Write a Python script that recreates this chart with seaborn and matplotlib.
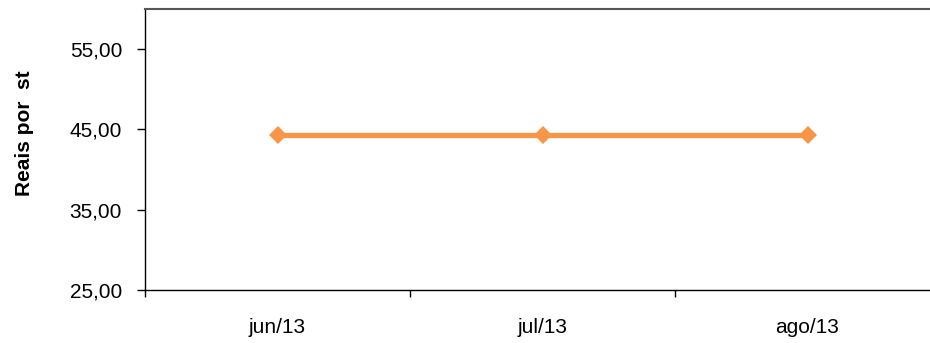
import matplotlib
matplotlib.use("Agg")
import matplotlib.pyplot as plt
import seaborn as sns
import pandas as pd
from matplotlib.ticker import FixedLocator, FuncFormatter

# Monthly price series
months = ["jun/13", "jul/13", "ago/13"]
prices = [44.3, 44.3, 44.3]
y_ticks = [25, 35, 45, 55]

sns.set_theme(style="white")
plt.rcParams["font.family"] = ["Liberation Sans", "DejaVu Sans"]

df = pd.DataFrame({"pos": range(len(months)), "month": months, "price": prices})

fig = plt.figure(figsize=(9.30, 3.43), dpi=100)
W, H = 930, 343
left, right, top, bottom = 145, 940, 9, 290
ax = fig.add_axes([left / W, 1 - bottom / H, (right - left) / W, (bottom - top) / H])

sns.lineplot(data=df, x="pos", y="price", ax=ax, color="#F79646", linewidth=3.8,
             marker="D", markersize=9, markeredgewidth=0, legend=False)

ax.set_xlim(-0.5, len(months) - 0.5)
ax.set_ylim(25, 60)

ax.yaxis.set_major_locator(FixedLocator(y_ticks))
ax.yaxis.set_major_formatter(FuncFormatter(lambda v, p: f"{v:.2f}".replace(".", ",")))

ax.set_xticks(list(range(len(months))))
ax.set_xticklabels(months)
ax.set_xticks([i - 0.5 for i in range(len(months) + 1)], minor=True)
ax.tick_params(axis="x", which="major", length=0, pad=20, labelsize=15, colors="#000000")
ax.tick_params(axis="x", which="minor", length=5, width=1, direction="out", color="#000000", bottom=True)
ax.tick_params(axis="y", which="major", length=6, width=1, direction="out", left=True,
               labelsize=15, colors="#000000", pad=10.5)

for side in ["left", "bottom", "top"]:
    ax.spines[side].set_visible(True)
    ax.spines[side].set_color("#000000")
    ax.spines[side].set_linewidth(1.0)
ax.spines["right"].set_visible(False)
ax.spines["top"].set_color("#555555")
ax.spines["top"].set_linewidth(1.5)

ax.set_xlabel("")
ax.set_ylabel("Reais por  st", fontsize=15, fontweight="bold", color="#000000")
ax.yaxis.set_label_coords((34 - left) / (right - left), (bottom - 133.5) / (bottom - top))
ax.grid(False)

fig.savefig("out.png", dpi=100)
